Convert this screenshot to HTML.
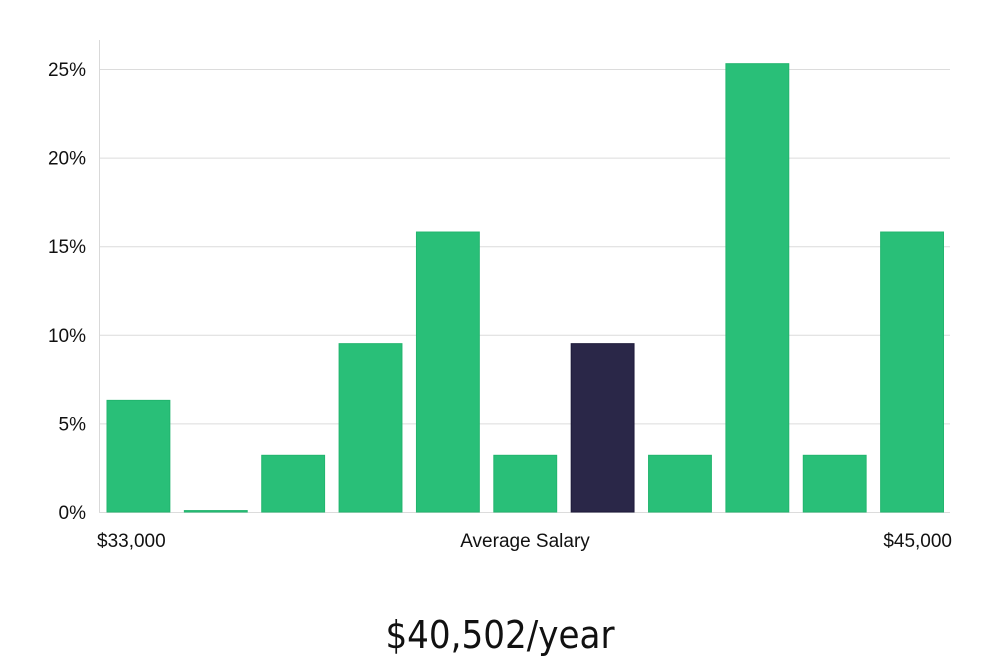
<!DOCTYPE html>
<html><head><meta charset="utf-8"><style>
html,body{margin:0;padding:0;background:#fff;width:1000px;height:660px;overflow:hidden;font-family:"Liberation Sans","DejaVu Sans",sans-serif}
</style></head><body>
<svg id="chart" width="1000" height="660" xmlns="http://www.w3.org/2000/svg">
<g id="grid"></g><g id="bars"></g><g id="yticks"></g>
<line x1="99.5" y1="40" x2="99.5" y2="512" stroke="#d9d9d9"/>
<text x="97" y="547" font-size="19" fill="#111">$33,000</text>
<text x="525" y="547" font-size="19" fill="#111" text-anchor="middle">Average Salary</text>
<text x="952" y="547" font-size="19" fill="#111" text-anchor="end">$45,000</text>
<text x="500" y="648" font-size="38" fill="#111" text-anchor="middle" font-family="DejaVu Sans Condensed, DejaVu Sans, sans-serif" font-weight="300">$40,502/year</text>
</svg>
<script>
const categories=["b1","b2","b3","b4","b5","b6","b7","b8","b9","b10","b11"];
const values=[6.3,0.08,3.2,9.5,15.8,3.2,9.5,3.2,25.3,3.2,15.8];
const highlight=[false,false,false,false,false,false,true,false,false,false,false];
const yTicks=[0,5,10,15,20,25];
const tickLabels=["0%","5%","10%","15%","20%","25%"];
const NS="http://www.w3.org/2000/svg";
const x0=99,x1=950,y0=512,yTop=69,yMaxVal=25;
const y=v=>y0-(v/yMaxVal)*(y0-yTop);
const band=(x1-x0)/categories.length;
const bx=i=>x0+i*band+8;
const bw=band-14.5;
const grid=document.getElementById('grid'),bars=document.getElementById('bars'),yt=document.getElementById('yticks');
yTicks.forEach((t,i)=>{
 const l=document.createElementNS(NS,'line');
 
 
 l.setAttribute('x1',x0);l.setAttribute('x2',x1);
 l.setAttribute('y1',y(t)+0.5);l.setAttribute('y2',y(t)+0.5);
 l.setAttribute('stroke','#dcdcdc');
 grid.appendChild(l);
 const tx=document.createElementNS(NS,'text');
 
 
 tx.setAttribute('x',86);tx.setAttribute('y',y(t)+7);
 tx.setAttribute('text-anchor','end');tx.setAttribute('font-size','19');tx.setAttribute('fill','#111');
 tx.textContent=tickLabels[i];
 yt.appendChild(tx);
});
values.forEach((v,i)=>{
 const r=document.createElementNS(NS,'rect');
 
 
 const h=Math.max(1,y0-y(v));
 r.setAttribute('x',bx(i));r.setAttribute('width',bw);
 r.setAttribute('y',y0-h);r.setAttribute('height',h);
 r.setAttribute('fill',highlight[i]?'#2a2748':'#29bf78');
 r.setAttribute('stroke',highlight[i]?'#1d1a3a':'#22b56e');
 r.setAttribute('stroke-width','1');
 bars.appendChild(r);
});
</script>
</body></html>
